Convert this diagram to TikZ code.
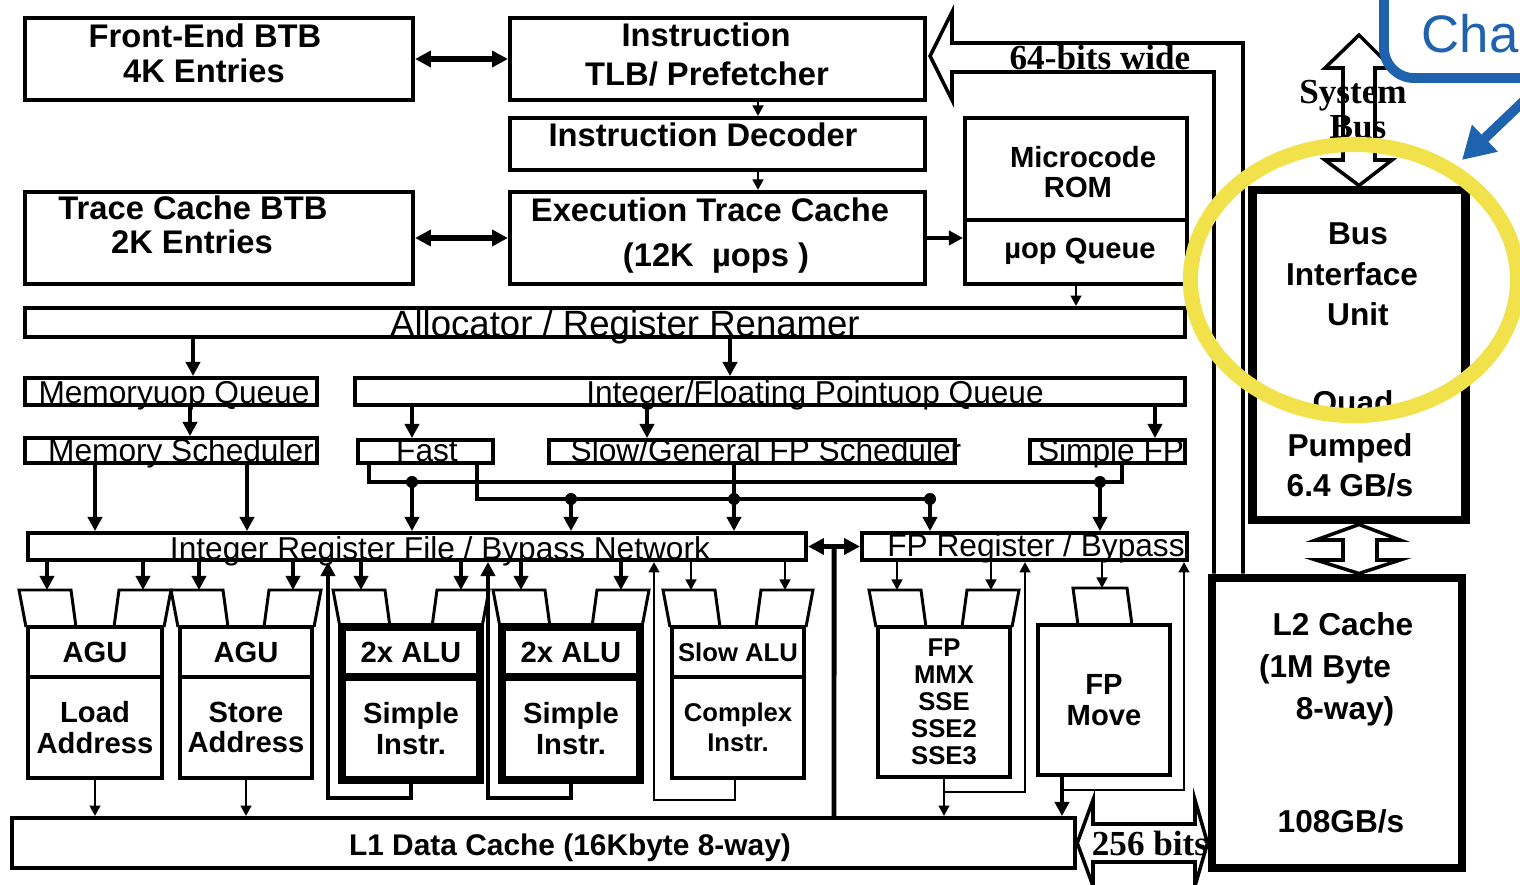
\documentclass[tikz,border=0pt]{standalone}
\usepackage{fontspec}
\setmainfont{Liberation Sans}
\newfontfamily\timesfont{Liberation Serif}
\usetikzlibrary{arrows.meta, positioning, calc}
\definecolor{calloutBlue}{HTML}{1F62AE}
\definecolor{markYellow}{HTML}{F1E24B}
\newcommand{\fTop}{\fontsize{9.3}{11}\selectfont\bfseries}
\newcommand{\fAlloc}{\fontsize{10.4}{12}\selectfont}
\newcommand{\fQueue}{\fontsize{9}{10}\selectfont}
\newcommand{\fUnit}{\fontsize{8.3}{8.6}\selectfont\bfseries}
\newcommand{\fSlow}{\fontsize{7.3}{8.5}\selectfont\bfseries}
\newcommand{\fSmall}{\fontsize{7.3}{7.7}\selectfont\bfseries}
\newcommand{\fBig}{\fontsize{9}{11}\selectfont\bfseries}
\newcommand{\fSerif}{\fontsize{10}{12}\selectfont\timesfont\bfseries}
\newcommand{\fCha}{\fontsize{15}{18}\selectfont}

\begin{document}
\begin{tikzpicture}[
    x=0.01cm, y=-0.01cm,
    blk/.style={draw, line width=1.1pt, inner sep=0pt},
    heavy/.style={draw, line width=2.5pt, inner sep=0pt},
    unit/.style={draw, line width=1pt, inner sep=0pt, align=center, font=\fUnit},
    alu/.style={unit, line width=2.2pt},
    portline/.style={line width=0.85pt},
    lbl/.style={anchor=base, inner sep=0pt},
    arr/.style={-{Triangle[length=4pt, width=4pt]}, line width=1.3pt},
    tarr/.style={-{Triangle[length=3pt, width=3pt]}, line width=0.75pt},
    dbl/.style={{Triangle[length=4.5pt, width=4.5pt]}-{Triangle[length=4.5pt, width=4.5pt]}, line width=1.7pt},
    bus/.style={line width=1.4pt},
    hollow/.style={line width=1pt, line join=miter},
    dot/.style={circle, fill, inner sep=0pt, minimum size=0.12cm}
  ]
  \useasboundingbox (0,0) rectangle (1520,885);
  \clip (0,0) rectangle (1520,885);
  \fill[white] (0,0) rectangle (1520,885);

  % front end
  \node[blk, minimum width=3.88cm, minimum height=0.82cm] (febtb) at (219,59) {};
  \node[blk, minimum width=4.15cm, minimum height=0.82cm] (tlb) at (717.5,59) {};
  \node[blk, minimum width=4.15cm, minimum height=0.52cm] (dec) at (717.5,144) {};
  \node[blk, minimum width=3.88cm, minimum height=0.92cm] (tcbtb) at (219,238) {};
  \node[blk, minimum width=4.15cm, minimum height=0.92cm] (etc) at (717.5,238) {};
  \node[blk, minimum width=2.22cm, minimum height=1.02cm] (rom) at (1076,169) {};
  \node[blk, minimum width=2.22cm, minimum height=0.64cm] (uq) at (1076,252) {};

  \node[lbl, font=\fTop] (tfe1) at (205,48) {Front-End BTB};
  \node[lbl, font=\fTop] (tfe2) at (204,83) {4K Entries};
  \node[lbl, font=\fTop] (ttlb1) at (706,47) {Instruction};
  \node[lbl, font=\fTop] (ttlb2) at (707,86) {TLB/ Prefetcher};
  \node[lbl, font=\fTop] (tdec) at (703,147) {Instruction Decoder};
  \node[lbl, font=\fTop] (ttc1) at (193,220) {Trace Cache BTB};
  \node[lbl, font=\fTop] (ttc2) at (192,254) {2K Entries};
  \node[lbl, font=\fTop] (tetc1) at (710,222) {Execution Trace Cache};
  \node[lbl, font=\fTop] (tetc2) at (716,267) {(12K\ \ µops )};
  \node[lbl, font=\fUnit] (trom1) at (1083,168) {Microcode};
  \node[lbl, font=\fUnit] (trom2) at (1078,198) {ROM};
  \node[lbl, font=\fUnit] (tuq) at (1080,259) {µop Queue};

  \draw[dbl] (febtb.east) -- (tlb.west);
  \draw[dbl] (tcbtb.east) -- (etc.west);
  \draw[arr] (etc.east) -- (etc.east -| uq.west);
  \draw[tarr] (tlb.south -| 758,0) -- (dec.north -| 758,0);
  \draw[tarr] (dec.south -| 758,0) -- (etc.north -| 758,0);

  % allocation and queues
  \node[blk, minimum width=11.6cm, minimum height=0.29cm] (alloc) at (605,322.5) {};
  \node[lbl, font=\fAlloc] (talloc) at (625,337) {Allocator / Register Renamer};
  \node[blk, minimum width=2.92cm, minimum height=0.27cm] (memq) at (171,391.5) {};
  \node[blk, minimum width=8.3cm, minimum height=0.27cm] (intq) at (770,391.5) {};
  \node[blk, minimum width=2.92cm, minimum height=0.25cm] (memsch) at (171,450.5) {};
  \node[blk, minimum width=1.35cm, minimum height=0.23cm] (fast) at (425.5,451.5) {};
  \node[blk, minimum width=4.06cm, minimum height=0.23cm] (slowsch) at (752,451.5) {};
  \node[blk, minimum width=1.55cm, minimum height=0.23cm] (sfp) at (1107.5,451.5) {};
  \node[lbl, font=\fQueue] (tmemq) at (174,404) {Memoryuop Queue};
  \node[lbl, font=\fQueue] (tintq) at (815,404) {Integer/Floating Pointuop Queue};
  \node[lbl, font=\fQueue] (tmemsch) at (181,462) {Memory Scheduler};
  \node[lbl, font=\fQueue] (tfast) at (427,462) {Fast};
  \node[lbl, font=\fQueue] (tslow) at (766,462) {Slow/General FP Scheduler};
  \node[lbl, font=\fQueue] (tsfp) at (1111,462) {Simple FP};

  \draw[tarr] (uq.south) -- (alloc.north -| uq.south);
  \draw[arr] (alloc.south -| 193,0) -- (memq.north -| 193,0);
  \draw[arr] (alloc.south -| 730,0) -- (intq.north -| 730,0);
  \draw[arr] (memq.south -| 190,0) -- (memsch.north -| 190,0);
  \draw[arr] (intq.south -| 412,0) -- (fast.north -| 412,0);
  \draw[arr] (intq.south -| 647,0) -- (slowsch.north -| 647,0);
  \draw[arr] (intq.south -| 1155,0) -- (sfp.north -| 1155,0);

  % register files
  \node[blk, minimum width=7.78cm, minimum height=0.27cm] (intrf) at (417,546.5) {};
  \node[blk, minimum width=3.25cm, minimum height=0.27cm] (fprf) at (1024.5,546.5) {};
  \node[lbl, font=\fQueue] (tintrf) at (440,560) {Integer Register File / Bypass Network};
  \node[lbl, font=\fQueue] (tfprf) at (1036,557) {FP Register / Bypass};

  \draw[arr] (memsch.south -| 95,0) -- (intrf.north -| 95,0);
  \draw[arr] (memsch.south -| 247,0) -- (intrf.north -| 247,0);
  \draw[bus] (fast.south -| 369,0) |- (1122,482) -- (sfp.south -| 1122,0);
  \draw[bus] (fast.south -| 477,0) |- (930,499);
  \draw[bus] (slowsch.south -| 734,0) -- (734,499);
  \node[dot] (j1) at (412,482) {};
  \node[dot] (j2) at (1100,482) {};
  \node[dot] (j3) at (571,499) {};
  \node[dot] (j4) at (734,499) {};
  \node[dot] (j5) at (930,499) {};
  \foreach \j in {j1,j3,j4}
    \draw[arr] (\j.center) -- (intrf.north -| \j);
  \foreach \j in {j2,j5}
    \draw[arr] (\j.center) -- (fprf.north -| \j);
  \draw[dbl] (intrf.east) -- (fprf.west);

  % execution units: input ports
  \foreach \nm/\px in {p1/54, p3/206, p5/368, p7/528, p9/698, p11/904}{
    \draw[portline] (\px-28,627) -- (\px-35,590) -- (\px+17,590) -- (\px+22,627);
    \coordinate (\nm) at (\px-7,590);
  }
  \foreach \nm/\px in {p2/136, p4/286, p6/454, p8/614, p10/778, p12/984}{
    \draw[portline] (\px-22,627) -- (\px-17,590) -- (\px+35,590) -- (\px+28,627);
    \coordinate (\nm) at (\px+7,590);
  }
  \draw[portline] (1078,625) -- (1073,588) -- (1127,588) -- (1132,625);
  \coordinate (p13) at (1102,588);

  \node[unit, minimum width=1.34cm, minimum height=0.50cm] (agu1) at (95,652) {AGU};
  \node[unit, minimum width=1.34cm, minimum height=1.01cm] (lda) at (95,727.5) {Load\\Address};
  \node[unit, minimum width=1.32cm, minimum height=0.50cm] (agu2) at (246,652) {AGU};
  \node[unit, minimum width=1.32cm, minimum height=1.01cm] (sta) at (246,727.5) {Store\\Address};
  \node[alu, minimum width=1.38cm, minimum height=0.50cm] (alu1) at (411,652) {2x ALU};
  \node[alu, minimum width=1.38cm, minimum height=1.03cm] (sim1) at (411,728.5) {Simple\\Instr.};
  \node[alu, minimum width=1.38cm, minimum height=0.50cm] (alu2) at (571,652) {2x ALU};
  \node[alu, minimum width=1.38cm, minimum height=1.03cm] (sim2) at (571,728.5) {Simple\\Instr.};
  \node[unit, font=\fSlow, minimum width=1.32cm, minimum height=0.50cm] (salu) at (738,652) {Slow ALU};
  \node[unit, font=\fSlow, minimum width=1.32cm, minimum height=1.01cm] (cplx) at (738,727.5) {Complex\\Instr.};
  \node[unit, font=\fSmall, minimum width=1.32cm, minimum height=1.5cm] (fpu) at (944,702) {FP\\MMX\\SSE\\SSE2\\SSE3};
  \node[unit, minimum width=1.32cm, minimum height=1.5cm] (fpmv) at (1104,700) {FP\\Move};

  \foreach \p in {p1,p2,p3,p4,p5,p6,p7,p8}
    \draw[arr] (intrf.south -| \p) -- (\p);
  \foreach \p in {p9,p10}
    \draw[tarr] (intrf.south -| \p) -- (\p);
  \foreach \p in {p11,p12,p13}
    \draw[tarr] (fprf.south -| \p) -- (\p);

  % L1 and write back
  \node[blk, minimum width=10.63cm, minimum height=0.5cm] (L1) at (543.5,843) {};
  \node[lbl, font=\fontsize{8.5}{10}\selectfont\bfseries] (tL1) at (570,856) {L1 Data Cache (16Kbyte 8-way)};

  \draw[tarr] (lda.south) -- (L1.north -| lda.south);
  \draw[tarr] (sta.south) -- (L1.north -| sta.south);
  \draw[arr] (sim1.south) |- (328,798) -- (intrf.south -| 328,0);
  \draw[arr] (sim2.south) |- (488,798) -- (intrf.south -| 488,0);
  \draw[tarr] (cplx.south -| 735,0) |- (654,800) -- (intrf.south -| 654,0);
  \draw[tarr] (fpu.south) -- (L1.north -| fpu.south);
  \draw[tarr] (fpu.south |- 0,792) -| (fprf.south -| 1025,0);
  \draw[arr] (fpmv.south -| 1062,0) -- (L1.north -| 1062,0);
  \draw[tarr] (1062,790) -| (fprf.south -| 1184,0);
  \draw[bus] ($(intrf.east)!0.5!(fprf.west)$) -- (L1.north -| 834,0);

  % bus interface and L2
  \node[heavy, minimum width=2.13cm, minimum height=3.3cm] (biu) at (1359,355) {};
  \node[heavy, minimum width=2.5cm, minimum height=2.9cm] (l2) at (1337,723) {};
  \node[lbl, font=\fBig] (tb1) at (1358,245) {Bus};
  \node[lbl, font=\fBig] (tb2) at (1352,286) {Interface};
  \node[lbl, font=\fBig] (tb3) at (1358,326) {Unit};
  \node[lbl, font=\fBig] (tb4) at (1353,414) {Quad};
  \node[lbl, font=\fBig] (tb5) at (1350,456) {Pumped};
  \node[lbl, font=\fBig] (tb6) at (1350,497) {6.4 GB/s};
  \node[lbl, font=\fBig] (tl1) at (1343,636) {L2 Cache};
  \node[lbl, font=\fBig] (tl2) at (1325,677) {(1M Byte};
  \node[lbl, font=\fBig] (tl3) at (1345,719) {8-way)};
  \node[lbl, font=\fBig] (tl4) at (1341,832) {108GB/s};

  % wide buses
  \draw[hollow] (l2.north -| 1214,0) -- (1214,72) -- (952,72) -- (952,100)
    -- ($(tlb.east)+(3,-3)$) -- (952,12) -- (952,43) -- (1243,43) -- (l2.north -| 1243,0);
  \node[lbl, font=\fSerif] (t64) at (1100,70) {64-bits wide};
  \draw[hollow] (1359,35) -- (1392,68) -- (1375,68) -- (1375,160) -- (1392,160)
    -- (biu.north) -- (1325,160) -- (1343,160) -- (1343,68) -- (1325,68) -- cycle;
  \node[lbl, font=\fSerif] (tsys1) at (1353,104) {System};
  \node[lbl, font=\fSerif] (tsys2) at (1358,139) {Bus};
  \draw[hollow] (biu.south) -- (1400,540) -- (1377,540) -- (1377,560) -- (1400,560)
    -- (l2.north -| biu.south) -- (1316,560) -- (1343,560) -- (1343,540) -- (1316,540) -- cycle;
  \draw[hollow] (L1.east) -- (1093,800) -- (1093,824) -- (1195,824) -- (1195,800)
    -- (l2.west |- L1.east) -- (1195,886) -- (1195,862) -- (1093,862) -- (1093,886) -- cycle;
  \node[lbl, font=\fSerif] (t256) at (1150,856) {256 bits};

  % highlight
  \draw[markYellow, line width=4.3pt] (1354,280) ellipse [x radius=1.635cm, y radius=1.355cm];
  \draw[calloutBlue, line width=2.8pt, rounded corners=0.3cm] (1384,-20) -- (1384,78) -- (1560,78);
  \node[lbl, anchor=base west, font=\fCha, text=calloutBlue] (cha) at (1421,53) {Cha};
  \coordinate (cfrom) at (1528,97);
  \coordinate (cto) at (1462,160);
  \draw[calloutBlue, line width=2.8pt, -{Triangle[length=9pt, width=10pt]}] (cfrom) -- (cto);
\end{tikzpicture}
\end{document}
